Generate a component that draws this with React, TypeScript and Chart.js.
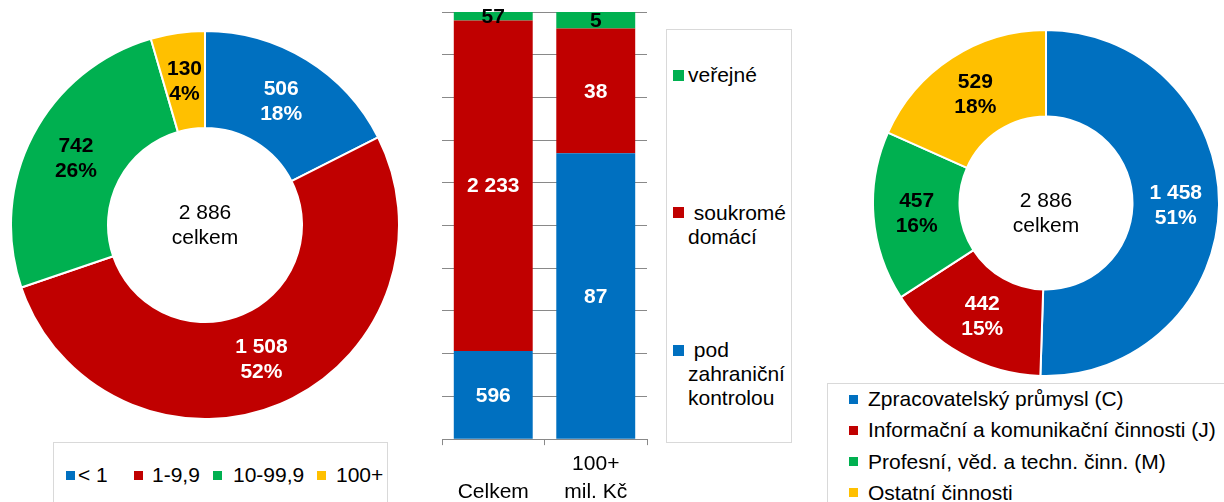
import React, { useEffect, useRef } from "react";
import { Chart, registerables } from "chart.js";

Chart.register(...registerables);

const FONT = "'Liberation Sans', Arial, Helvetica, sans-serif";

// ---- Left doughnut: by size (mil. Kč) ----
const sizeCategories = ["< 1", "1-9,9", "10-99,9", "100+"];
const sizeValues = [506, 1508, 742, 130];
const sizePercents = [18, 52, 26, 4];

// ---- Middle stacked bars: by ownership ----
const ownershipCategories = [["", "Celkem"], ["100+", "mil. Kč"]];
const ownershipSeries = [" pod zahraniční kontrolou", " soukromé domácí", "veřejné"];
const foreignValues = [596, 87];
const domesticValues = [2233, 38];
const publicValues = [57, 5];

// ---- Right doughnut: by sector ----
const sectorCategories = [
  "Zpracovatelský průmysl (C)",
  "Informační a komunikační činnosti (J)",
  "Profesní, věd. a techn. činn. (M)",
  "Ostatní činnosti",
];
const sectorValues = [1458, 442, 457, 529];
const sectorPercents = [51, 15, 16, 18];

const totalLabel = "celkem";

const COLORS = ["#0070C0", "#C00000", "#00B050", "#FFC000"];
const LABEL_COLORS = ["#ffffff", "#ffffff", "#000000", "#000000"];
const GRID = "#898989";
const BOX_BORDER = "#d9d9d9";

function fmt(n: number): string {
  return String(n).replace(/\B(?=(\d{3})+(?!\d))/g, " ");
}

type DoughnutProps = {
  labels: string[];
  values: number[];
  percents: number[];
  size: number;
  left: number;
  top: number;
  centerShift: number;
};

function Doughnut({ labels, values, percents, size, left, top, centerShift }: DoughnutProps) {
  const ref = useRef<HTMLCanvasElement>(null);
  useEffect(() => {
    const total = values.reduce((a, b) => a + b, 0);
    const chart = new Chart(ref.current as HTMLCanvasElement, {
      type: "doughnut",
      data: {
        labels,
        datasets: [
          {
            data: values,
            backgroundColor: COLORS,
            borderColor: "#ffffff",
            borderWidth: 2,
          },
        ],
      },
      options: {
        responsive: false,
        animation: false,
        cutout: "50%",
        events: [],
        layout: { padding: 0 },
        plugins: { legend: { display: false }, tooltip: { enabled: false } },
      },
      plugins: [
        {
          id: "arcLabels",
          afterDatasetsDraw(c: any) {
            const ctx = c.ctx;
            const meta = c.getDatasetMeta(0);
            ctx.save();
            ctx.textAlign = "center";
            ctx.textBaseline = "middle";
            ctx.font = `bold 21px ${FONT}`;
            meta.data.forEach((el: any, i: number) => {
              const p = el.getCenterPoint();
              ctx.fillStyle = LABEL_COLORS[i];
              ctx.fillText(fmt(values[i]), p.x, p.y - 12);
              ctx.fillText(percents[i] + "%", p.x, p.y + 13);
            });
            const ca = c.chartArea;
            const cx = (ca.left + ca.right) / 2;
            const cy = (ca.top + ca.bottom) / 2 + centerShift;
            ctx.fillStyle = "#000000";
            ctx.font = `21px ${FONT}`;
            ctx.fillText(fmt(total), cx, cy - 12);
            ctx.fillText(totalLabel, cx, cy + 13);
            ctx.restore();
          },
        },
      ],
    } as any);
    return () => chart.destroy();
  }, []);
  return (
    <canvas
      ref={ref}
      width={size}
      height={size}
      style={{ position: "absolute", left, top, width: size, height: size, display: "block" }}
    />
  );
}

function OwnershipBars() {
  const ref = useRef<HTMLCanvasElement>(null);
  useEffect(() => {
    const totals = foreignValues.map((v, i) => v + domesticValues[i] + publicValues[i]);
    const pct = (arr: number[]) => arr.map((v, i) => (v / totals[i]) * 100);
    const raw = [foreignValues, domesticValues, publicValues];
    const chart = new Chart(ref.current as HTMLCanvasElement, {
      type: "bar",
      data: {
        labels: ownershipCategories,
        datasets: [
          { label: ownershipSeries[0], data: pct(foreignValues), backgroundColor: COLORS[0] },
          { label: ownershipSeries[1], data: pct(domesticValues), backgroundColor: COLORS[1] },
          { label: ownershipSeries[2], data: pct(publicValues), backgroundColor: COLORS[2] },
        ],
      },
      options: {
        responsive: false,
        animation: false,
        events: [],
        layout: { padding: { left: 10, right: 10, top: 12, bottom: 0 } },
        datasets: { bar: { categoryPercentage: 1, barPercentage: 0.77, borderWidth: 0 } },
        scales: {
          x: {
            stacked: true,
            grid: {
              display: true,
              drawOnChartArea: false,
              drawTicks: true,
              tickLength: 6,
              color: GRID,
              offset: true,
            },
            border: { display: true, color: GRID, width: 1 },
            ticks: {
              color: "#000000",
              padding: 5,
              font: { family: FONT, size: 21, lineHeight: 1.33 },
              maxRotation: 0,
              autoSkip: false,
            },
          },
          y: {
            stacked: true,
            min: 0,
            max: 100,
            grid: { color: GRID, drawTicks: false },
            border: { display: false },
            ticks: { display: false, stepSize: 10 },
          },
        },
        plugins: { legend: { display: false }, tooltip: { enabled: false } },
      },
      plugins: [
        {
          id: "barLabels",
          afterDatasetsDraw(c: any) {
            const ctx = c.ctx;
            ctx.save();
            ctx.textAlign = "center";
            ctx.textBaseline = "middle";
            ctx.font = `bold 21px ${FONT}`;
            c.data.datasets.forEach((_: any, di: number) => {
              const meta = c.getDatasetMeta(di);
              meta.data.forEach((el: any, i: number) => {
                const p = el.getCenterPoint();
                ctx.fillStyle = di === 2 ? "#000000" : "#ffffff";
                ctx.fillText(fmt(raw[di][i]), p.x, p.y + 1);
              });
            });
            ctx.restore();
          },
        },
      ],
    } as any);
    return () => chart.destroy();
  }, []);
  return (
    <canvas
      ref={ref}
      width={225}
      height={511}
      style={{ position: "absolute", left: 432, top: 0, width: 225, height: 511, display: "block" }}
    />
  );
}

function Square({ left, top, size, color }: { left: number; top: number; size: number; color: string }) {
  return (
    <div style={{ position: "absolute", left, top, width: size, height: size, background: color }} />
  );
}

export default function App() {
  const leftSquares = [66, 134, 213, 317];
  const leftTexts = [78, 152, 233, 336];
  const midOrder = [2, 1, 0];
  return (
    <div
      style={{
        position: "absolute",
        left: 0,
        top: 0,
        width: 1224,
        height: 502,
        overflow: "hidden",
        background: "#ffffff",
        fontFamily: FONT,
        color: "#000000",
      }}
    >
      <Doughnut
        labels={sizeCategories}
        values={sizeValues}
        percents={sizePercents}
        size={390}
        left={10}
        top={30}
        centerShift={0}
      />

      {/* Left legend */}
      <div
        style={{
          position: "absolute",
          left: 53,
          top: 442,
          width: 333,
          height: 80,
          border: `1px solid ${BOX_BORDER}`,
        }}
      />
      {sizeCategories.map((c, i) => (
        <React.Fragment key={c}>
          <Square left={leftSquares[i]} top={471} size={9} color={COLORS[i]} />
          <div
            style={{
              position: "absolute",
              left: leftTexts[i],
              top: 462,
              fontSize: 21,
              lineHeight: "26px",
              whiteSpace: "nowrap",
            }}
          >
            {c}
          </div>
        </React.Fragment>
      ))}

      <OwnershipBars />

      {/* Middle legend */}
      <div
        style={{
          position: "absolute",
          left: 666,
          top: 29,
          width: 124,
          height: 412,
          border: `1px solid ${BOX_BORDER}`,
        }}
      />
      {midOrder.map((si, k) => {
        const center = 75 + k * 137.5;
        return (
          <React.Fragment key={si}>
            <Square left={673} top={center - 5.5} size={11} color={COLORS[si]} />
            <div
              style={{
                position: "absolute",
                left: 688,
                top: center - 12,
                width: 100,
                fontSize: 21,
                lineHeight: "24px",
                whiteSpace: "pre-wrap",
              }}
            >
              {ownershipSeries[si]}
            </div>
          </React.Fragment>
        );
      })}

      <Doughnut
        labels={sectorCategories}
        values={sectorValues}
        percents={sectorPercents}
        size={348}
        left={872}
        top={29}
        centerShift={10}
      />

      {/* Right legend */}
      <div
        style={{
          position: "absolute",
          left: 827,
          top: 383,
          width: 420,
          height: 150,
          border: `1px solid ${BOX_BORDER}`,
        }}
      />
      {sectorCategories.map((c, i) => {
        const center = 399 + i * 31.3;
        return (
          <React.Fragment key={c}>
            <Square left={849} top={center - 4.5} size={9} color={COLORS[i]} />
            <div
              style={{
                position: "absolute",
                left: 868,
                top: center - 13,
                fontSize: 21,
                lineHeight: "26px",
                whiteSpace: "nowrap",
              }}
            >
              {c}
            </div>
          </React.Fragment>
        );
      })}
    </div>
  );
}
